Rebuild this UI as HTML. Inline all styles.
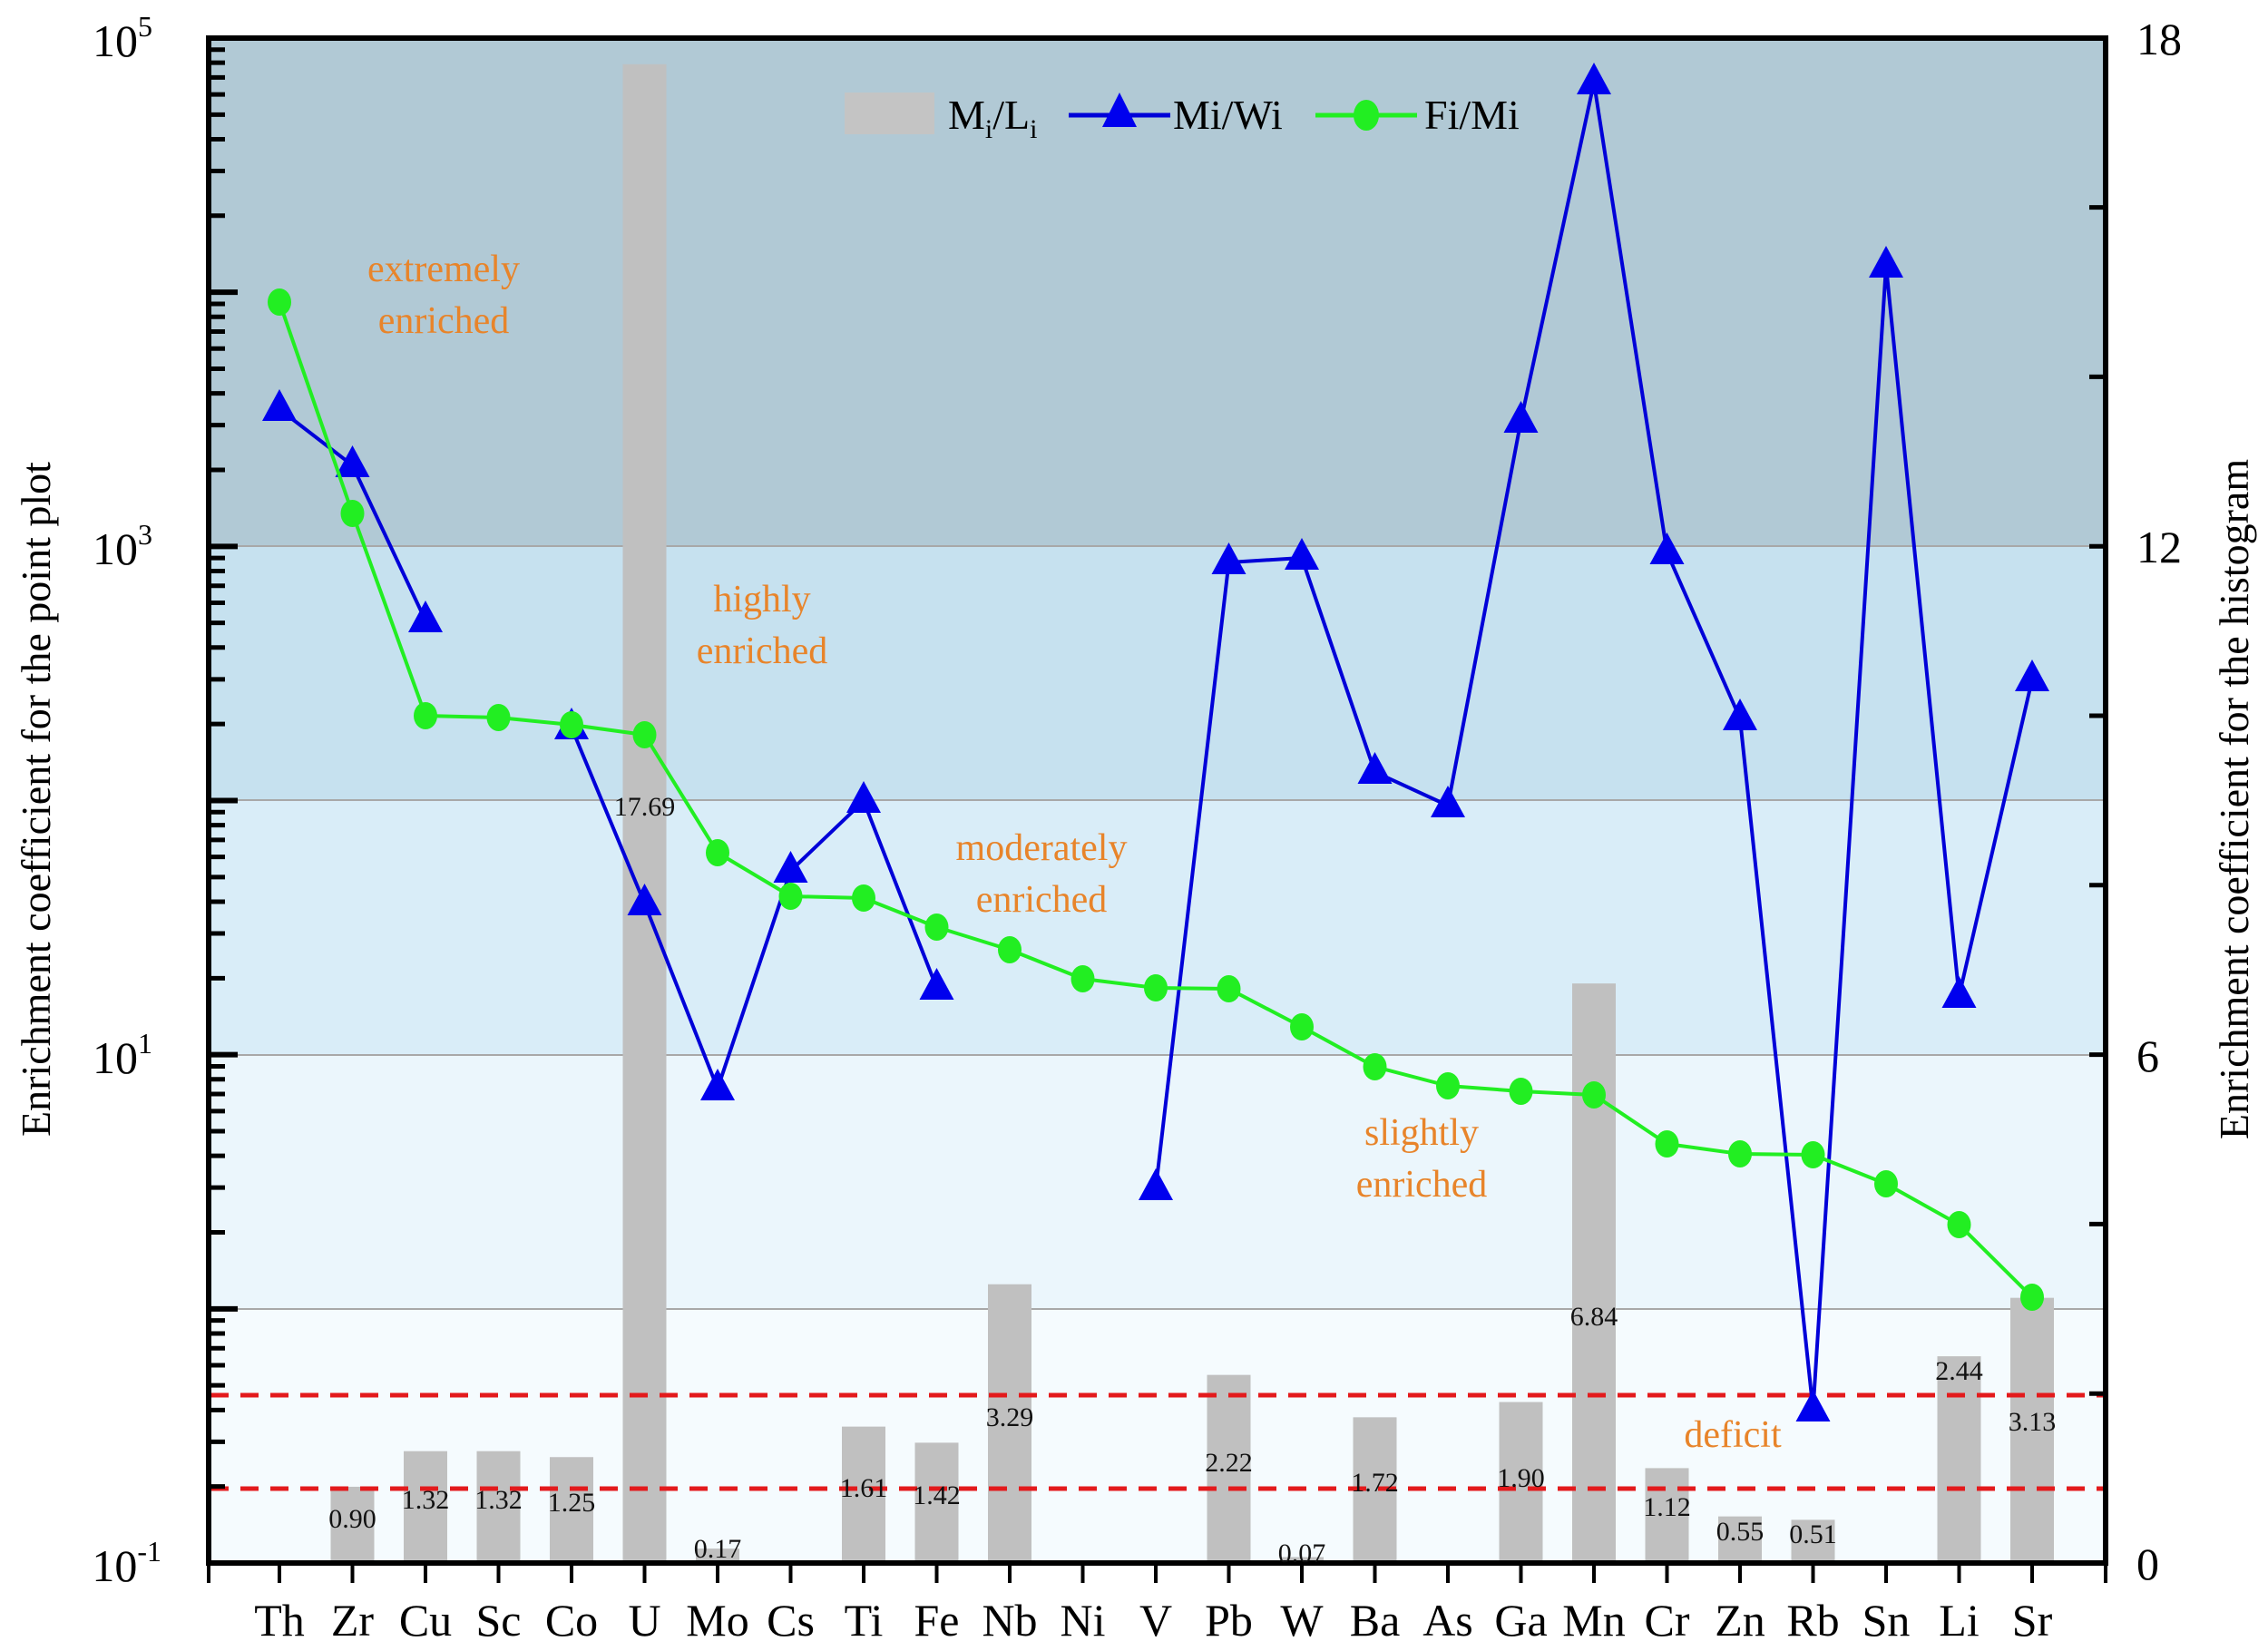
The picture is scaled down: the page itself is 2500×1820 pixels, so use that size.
<!DOCTYPE html>
<html><head><meta charset="utf-8">
<style>
html,body{margin:0;padding:0;background:#fff;}
svg{display:block;font-family:"Liberation Serif",serif;}
</style></head>
<body>
<svg id="s" width="2500" height="1820" viewBox="0 0 2500 1820" xmlns="http://www.w3.org/2000/svg">
<rect x="230" y="42" width="2091" height="560" fill="#b1c9d5"/>
<rect x="230" y="602" width="2091" height="280" fill="#c6e1ef"/>
<rect x="230" y="882" width="2091" height="281" fill="#d9edf8"/>
<rect x="230" y="1163" width="2091" height="280" fill="#ebf6fc"/>
<rect x="230" y="1443" width="2091" height="280" fill="#f5fbfe"/>
<g stroke="#a8a8a8" stroke-width="2">
<line x1="230" y1="602" x2="2321" y2="602"/>
<line x1="230" y1="882" x2="2321" y2="882"/>
<line x1="230" y1="1163" x2="2321" y2="1163"/>
<line x1="230" y1="1443" x2="2321" y2="1443"/>
</g>
<g id="bars" fill="#c0c0c0"></g>
<g stroke="#e31a1c" stroke-width="5" stroke-dasharray="20 13">
<line x1="232" y1="1538" x2="2319" y2="1538"/>
<line x1="232" y1="1641" x2="2319" y2="1641"/>
</g>
<g id="series"></g>
<g id="ticks" stroke="#000"></g>
<rect x="230" y="42" width="2091" height="1681" fill="none" stroke="#000" stroke-width="6"/>

<rect x="931" y="102" width="99" height="46" fill="#c4c4c4"/>
<text x="1045" y="142" font-size="46">M<tspan font-size="30" dy="10">i</tspan><tspan dy="-10">/L</tspan><tspan font-size="30" dy="10">i</tspan></text>
<line x1="1178" y1="127" x2="1290" y2="127" stroke="#0000d8" stroke-width="5"/>
<polygon points="1234,102 1215,140 1253,140" fill="#0000ee"/>
<text x="1293" y="142" font-size="46">Mi/Wi</text>
<line x1="1450" y1="127" x2="1562" y2="127" stroke="#22ee22" stroke-width="5"/>
<ellipse cx="1506" cy="127" rx="14" ry="17" fill="#22ee22"/>
<text x="1570" y="142" font-size="46">Fi/Mi</text>

<g fill="#e8842a" font-size="42" text-anchor="middle">
<text x="489" y="310">extremely</text><text x="489" y="367">enriched</text>
<text x="840" y="674">highly</text><text x="840" y="731">enriched</text>
<text x="1148" y="948">moderately</text><text x="1148" y="1005">enriched</text>
<text x="1567" y="1262">slightly</text><text x="1567" y="1319">enriched</text>
<text x="1910" y="1595">deficit</text>
</g>

<g font-size="30" text-anchor="middle" fill="#111">
<text x="388.5" y="1684">0.90</text>
<text x="469" y="1663">1.32</text>
<text x="549.5" y="1663">1.32</text>
<text x="630" y="1666">1.25</text>
<text x="710.5" y="899">17.69</text>
<text x="791" y="1717">0.17</text>
<text x="952" y="1650">1.61</text>
<text x="1032.5" y="1658">1.42</text>
<text x="1113" y="1572">3.29</text>
<text x="1354.5" y="1622">2.22</text>
<text x="1435" y="1722">0.07</text>
<text x="1515.5" y="1644">1.72</text>
<text x="1676.5" y="1639">1.90</text>
<text x="1757" y="1461">6.84</text>
<text x="1837.5" y="1671">1.12</text>
<text x="1918" y="1698">0.55</text>
<text x="1998.5" y="1701">0.51</text>
<text x="2159.5" y="1521">2.44</text>
<text x="2240" y="1577">3.13</text>
</g>

<g font-size="50" text-anchor="end">
<text x="168" y="62">10<tspan font-size="32" dy="-22">5</tspan></text>
<text x="168" y="622">10<tspan font-size="32" dy="-22">3</tspan></text>
<text x="168" y="1183">10<tspan font-size="32" dy="-22">1</tspan></text>
<text x="178" y="1743">10<tspan font-size="32" dy="-22">-1</tspan></text>
</g>
<g font-size="50">
<text x="2355" y="60">18</text>
<text x="2355" y="620">12</text>
<text x="2355" y="1181">6</text>
<text x="2355" y="1741">0</text>
</g>
<g font-size="50" text-anchor="middle">
<text x="308" y="1803">Th</text><text x="388.5" y="1803">Zr</text><text x="469" y="1803">Cu</text><text x="549.5" y="1803">Sc</text><text x="630" y="1803">Co</text><text x="710.5" y="1803">U</text><text x="791" y="1803">Mo</text><text x="871.5" y="1803">Cs</text><text x="952" y="1803">Ti</text><text x="1032.5" y="1803">Fe</text><text x="1113" y="1803">Nb</text><text x="1193.5" y="1803">Ni</text><text x="1274" y="1803">V</text><text x="1354.5" y="1803">Pb</text><text x="1435" y="1803">W</text><text x="1515.5" y="1803">Ba</text><text x="1596" y="1803">As</text><text x="1676.5" y="1803">Ga</text><text x="1757" y="1803">Mn</text><text x="1837.5" y="1803">Cr</text><text x="1918" y="1803">Zn</text><text x="1998.5" y="1803">Rb</text><text x="2079" y="1803">Sn</text><text x="2159.5" y="1803">Li</text><text x="2240" y="1803">Sr</text>
</g>
<text transform="translate(55,881) rotate(-90)" font-size="46" text-anchor="middle">Enrichment coefficient for the point plot</text>
<text transform="translate(2478,881) rotate(-90)" font-size="46" text-anchor="middle">Enrichment coefficient for the histogram</text>
</svg>
<script>
var NS="http://www.w3.org/2000/svg";
function el(p,t,a){var e=document.createElementNS(NS,t);for(var k in a)e.setAttribute(k,a[k]);p.appendChild(e);return e;}
function X(i){return 308+80.5*i;}
var bars=[null,0.90,1.32,1.32,1.25,17.69,0.17,null,1.61,1.42,3.29,null,null,2.22,0.07,1.72,null,1.90,6.84,1.12,0.55,0.51,null,2.44,3.13];
var bg=document.getElementById('bars');
bars.forEach(function(v,i){if(v==null)return;var y=1723-v*93.4;el(bg,'rect',{x:X(i)-24,y:y,width:48,height:1723-y});});
var blue=[451,513,684,null,802,996,1200,960,883,1089,null,null,1310,620,615,851,888,464,91,609,792,1554,293,1098,749];
var green=[333,566,789,791,799,810,940,988,990,1022,1047,1079,1089,1090,1132,1176,1197,1203,1207,1261,1272,1273,1305,1350,1430];
var sg=document.getElementById('series');
function pl(idx,arr,col){el(sg,'polyline',{points:idx.map(function(i){return X(i)+','+arr[i];}).join(' '),fill:'none',stroke:col,'stroke-width':4,'stroke-linejoin':'round'});}
pl([0,1,2],blue,'#0000d8');
pl([4,5,6,7,8,9],blue,'#0000d8');
pl([12,13,14,15,16,17,18,19,20,21,22,23,24],blue,'#0000d8');
blue.forEach(function(y,i){if(y==null)return;var x=X(i);el(sg,'polygon',{points:(x)+','+(y-22)+' '+(x-19)+','+(y+13)+' '+(x+19)+','+(y+13),fill:'#0000ee'});});
pl(green.map(function(_,i){return i;}),green,'#22ee22');
green.forEach(function(y,i){el(sg,'ellipse',{cx:X(i),cy:y,rx:13,ry:15,fill:'#22ee22'});});
var tg=document.getElementById('ticks');
var D=280.17;
for(var d=0;d<6;d++){var base=1723-d*D;
 for(var m=2;m<=9;m++){var y=base-Math.log10(m)*D;el(tg,'line',{x1:230,y1:y,x2:248,y2:y,'stroke-width':5});}
}
for(var d=0;d<=6;d++){var y=1723-d*D;el(tg,'line',{x1:230,y1:y,x2:262,y2:y,'stroke-width':6});}
for(var v=2;v<18;v+=2){var y=1723-v*93.4;el(tg,'line',{x1:2303,y1:y,x2:2321,y2:y,'stroke-width':5});}
for(var i=0;i<25;i++){el(tg,'line',{x1:X(i),y1:1723,x2:X(i),y2:1745,'stroke-width':4});}
el(tg,'line',{x1:230,y1:1723,x2:230,y2:1745,'stroke-width':4});
el(tg,'line',{x1:2321,y1:1723,x2:2321,y2:1745,'stroke-width':4});
</script>
</body></html>
